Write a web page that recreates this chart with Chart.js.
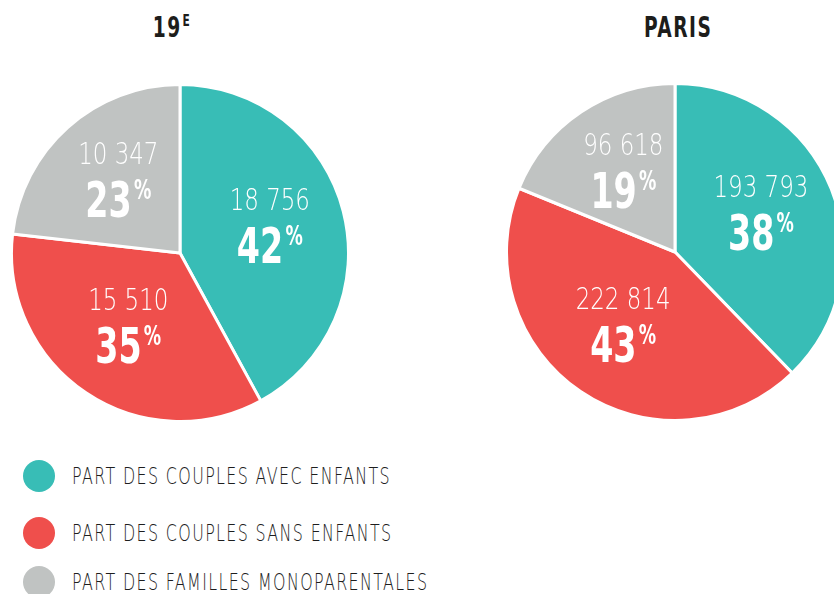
<!DOCTYPE html>
<html>
<head>
<meta charset="utf-8">
<script src="https://cdn.jsdelivr.net/npm/chart.js@4.4.1/dist/chart.umd.min.js"></script>
<style>
  html, body { margin: 0; padding: 0; background: #fff; overflow: hidden; width: 834px; height: 594px; }
  .pie { position: absolute; width: 340px; height: 340px; }
  .title { position: absolute; top: 11px; width: 200px; text-align: center; }
  .title span { display: inline-block; font-family: "DejaVu Sans Condensed", "DejaVu Sans", sans-serif; font-weight: bold; font-size: 28px; color: #1d1d1b; letter-spacing: 2px; transform: scaleX(0.74); }
  .title sup { font-size: 16px; vertical-align: 11px; margin-left: 1px; }
  .legend { position: absolute; left: 23px; top: 460px; }
  .legend-item { position: absolute; left: 0; white-space: nowrap; height: 32px; }
  .legend-dot { position: absolute; left: 0; top: 0; width: 32px; height: 32px; border-radius: 50%; }
  .legend-text { position: absolute; left: 49px; top: 0; line-height: 32px; font-family: "DejaVu Sans", sans-serif; font-weight: 200; font-size: 23px; color: #1e1e1e; letter-spacing: 2px; transform: scaleX(0.69); transform-origin: left center; }
</style>
</head>
<body>
<div class="title" style="left:72px;"><span>19<sup>E</sup></span></div>
<div class="title" style="left:578px;"><span>PARIS</span></div>
<div class="pie" style="left:10px; top:83px;"><canvas id="pie19"></canvas></div>
<div class="pie" style="left:505px; top:82px;"><canvas id="pieParis"></canvas></div>
<div class="legend" id="legend"></div>
<script>
const categories = [
  'PART DES COUPLES AVEC ENFANTS',
  'PART DES COUPLES SANS ENFANTS',
  'PART DES FAMILLES MONOPARENTALES'
];
const values19 = [18756, 15510, 10347];
const valuesParis = [193793, 222814, 96618];
const colors = ['#38bdb6', '#ef4f4c', '#c0c3c2'];

function formatNumber(n) {
  return String(n).replace(/\B(?=(\d{3})+(?!\d))/g, ' ');
}

// Draws the count and the percentage inside each slice
const sliceLabels = {
  id: 'sliceLabels',
  afterDatasetsDraw(chart) {
    const ctx = chart.ctx;
    const data = chart.data.datasets[0].data;
    const total = data.reduce((a, b) => a + b, 0);
    chart.getDatasetMeta(0).data.forEach((arc, i) => {
      const p = arc.getProps(['x', 'y', 'startAngle', 'endAngle', 'outerRadius'], true);
      const mid = (p.startAngle + p.endAngle) / 2;
      const r = p.outerRadius * 0.55;
      const cx = p.x + Math.cos(mid) * r;
      const cy = p.y + Math.sin(mid) * r;
      const pct = Math.round(data[i] / total * 100);

      ctx.save();
      ctx.fillStyle = '#ffffff';
      ctx.textBaseline = 'alphabetic';
      ctx.translate(cx, cy);
      ctx.scale(0.74, 1);

      ctx.textAlign = 'center';
      ctx.font = '200 31px "DejaVu Sans", sans-serif';
      ctx.fillText(formatNumber(data[i]), 0, -20);

      ctx.font = 'bold 50px "DejaVu Sans Condensed", "DejaVu Sans", sans-serif';
      const numW = ctx.measureText(String(pct)).width;
      ctx.font = 'bold 26px "DejaVu Sans Condensed", "DejaVu Sans", sans-serif';
      const pW = ctx.measureText('%').width;
      const gap = 3;
      const start = -(numW + pW + gap) / 2;
      ctx.textAlign = 'left';
      ctx.font = 'bold 50px "DejaVu Sans Condensed", "DejaVu Sans", sans-serif';
      ctx.fillText(String(pct), start, 33);
      ctx.font = 'bold 26px "DejaVu Sans Condensed", "DejaVu Sans", sans-serif';
      ctx.fillText('%', start + numW + gap, 15);
      ctx.restore();
    });
  }
};

function makePie(id, values) {
  return new Chart(document.getElementById(id), {
    type: 'pie',
    data: {
      labels: categories,
      datasets: [{
        data: values,
        backgroundColor: colors,
        borderColor: '#ffffff',
        borderWidth: 3
      }]
    },
    options: {
      responsive: true,
      maintainAspectRatio: false,
      animation: false,
      layout: { padding: 0 },
      plugins: {
        legend: { display: false },
        tooltip: { enabled: false }
      }
    },
    plugins: [sliceLabels]
  });
}

makePie('pie19', values19);
makePie('pieParis', valuesParis);

// Legend
const legend = document.getElementById('legend');
const legendTops = [0, 57, 106];
categories.forEach((label, i) => {
  const item = document.createElement('div');
  item.className = 'legend-item';
  item.style.top = legendTops[i] + 'px';
  item.innerHTML = '<div class="legend-dot" style="background:' + colors[i] + '"></div>' +
    '<div class="legend-text">' + label + '</div>';
  legend.appendChild(item);
});
</script>
</body>
</html>
